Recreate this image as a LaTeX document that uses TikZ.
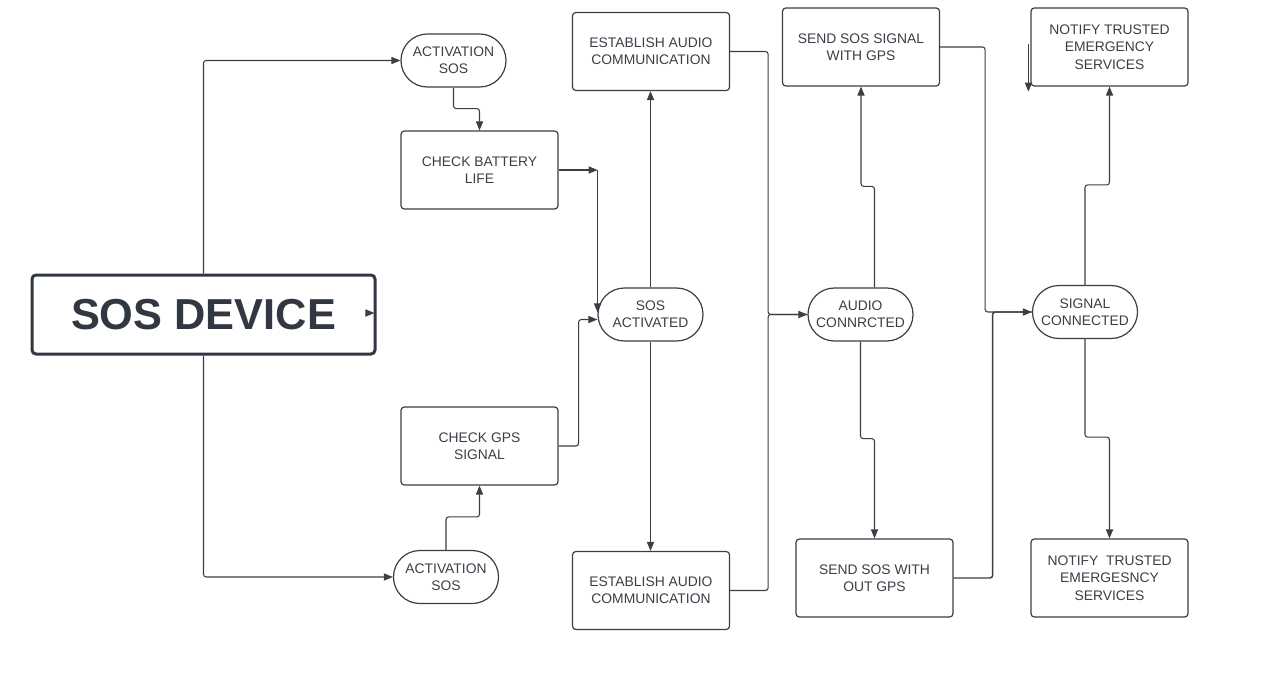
\documentclass[tikz,border=0pt]{standalone}
\usepackage{fontspec}
\setmainfont{Liberation Sans}
\usetikzlibrary{arrows.meta,calc}
\definecolor{inkgrey}{RGB}{58,62,70}
\definecolor{devgrey}{RGB}{50,56,66}
\tikzset{
  stepbox/.style={draw=inkgrey, line width=0.9pt, rounded corners=2.5pt, minimum width=117.75pt, minimum height=58.5pt, inner sep=0pt, align=center, text=inkgrey, font=\fontsize{10.4}{13}\selectfont},
  stadium/.style={stepbox, rounded corners=19.8pt, minimum width=78.75pt, minimum height=39.75pt},
  link/.style={draw=inkgrey, line width=0.8pt, rounded corners=2pt, -{Triangle[length=6.8pt,width=5.4pt]}},
  plain/.style={link, -},
}
\begin{document}
\begin{tikzpicture}[x=0.75pt,y=0.75pt,yscale=-1,xscale=1]
\useasboundingbox (0,0) rectangle (1280,690);

% Device
\node[stepbox, draw=devgrey, text=devgrey, line width=2.25pt, rounded corners=3pt, minimum width=257.25pt, minimum height=59.25pt, font=\fontsize{32.5}{36}\selectfont\bfseries] (dev) at (203.5,314.5) {SOS DEVICE};

% Left column
\node[stadium] (act1) at (453.5,60.5) {ACTIVATION\\SOS};
\node[stepbox] (battery) at (479.5,170) {CHECK BATTERY\\LIFE};
\node[stepbox] (gps) at (479.5,446) {CHECK GPS\\SIGNAL};
\node[stadium] (act2) at (446,577) {ACTIVATION\\SOS};

% Middle
\node[stadium] (sosact) at (650.5,314.5) {SOS\\ACTIVATED};
\node[stepbox] (est1) at (651,51.5) {ESTABLISH AUDIO\\COMMUNICATION};
\node[stepbox] (est2) at (651,590.5) {ESTABLISH AUDIO\\COMMUNICATION};

\node[stadium] (audio) at (860.5,314.5) {AUDIO\\CONNRCTED};
\node[stepbox] (sendgps) at (861,47) {SEND SOS SIGNAL\\WITH GPS};
\node[stepbox] (sendnogps) at (874.5,578) {SEND SOS WITH\\OUT GPS};

% Right column
\node[stadium] (signal) at (1085,312) {SIGNAL\\CONNECTED};
\node[stepbox] (notify1) at (1109.5,47) {NOTIFY TRUSTED\\EMERGENCY\\SERVICES};
\node[stepbox] (notify2) at (1109.5,578) {NOTIFY~~TRUSTED\\EMERGESNCY\\SERVICES};

% Connectors
\draw[link] ($(dev.east)+(-11,-1.5)$) -- ($(dev.east)+(-2,-1.5)$);
\draw[link] (dev.north) |- (act1.west);
\draw[link] (dev.south) |- (act2.west);

\draw[link] (act1.south) -- ++(0,21) -| (battery.north);
\draw[link] (act2.north) -- ++(0,-33) -| (gps.south);

\coordinate (bend1) at ($(battery.east)+(39,0)$);
\draw[link] (battery.east) -- (bend1);
\draw[link] (bend1) -- ($(bend1 |- sosact.west)+(0,-2)$);
\draw[link] (gps.east) -- ++(20,0) |- ($(sosact.west)+(0,5)$);

\draw[link] (sosact.north) -- (sosact.north |- est1.south);
\draw[link] (sosact.south) -- (sosact.south |- est2.north);

\draw[link] (est1.east) -- ++(38,0) |- (audio.west);
\draw[plain] (est2.east) -- ++(38,0) |- (audio.west);

\draw[link] ($(audio.north)+(14,0)$) -- ++(0,-101) -| (sendgps.south);
\draw[link] (audio.south) -- ++(0,97) -| (sendnogps.north);

\draw[link] (sendgps.east) -- ++(45,0) |- (signal.west);
\draw[plain, line width=1.1pt] (sendnogps.east) -- ++(39,0) |- (signal.west);

\draw[link] (signal.north) -- ++(0,-100) -| (notify1.south);
\draw[link] (signal.south) -- ++(0,98) -| (notify2.north);
\draw[link] ($(notify1.west)+(-2,-3)$) -- ($(notify1.south west)+(-2,5)$);

\end{tikzpicture}
\end{document}
